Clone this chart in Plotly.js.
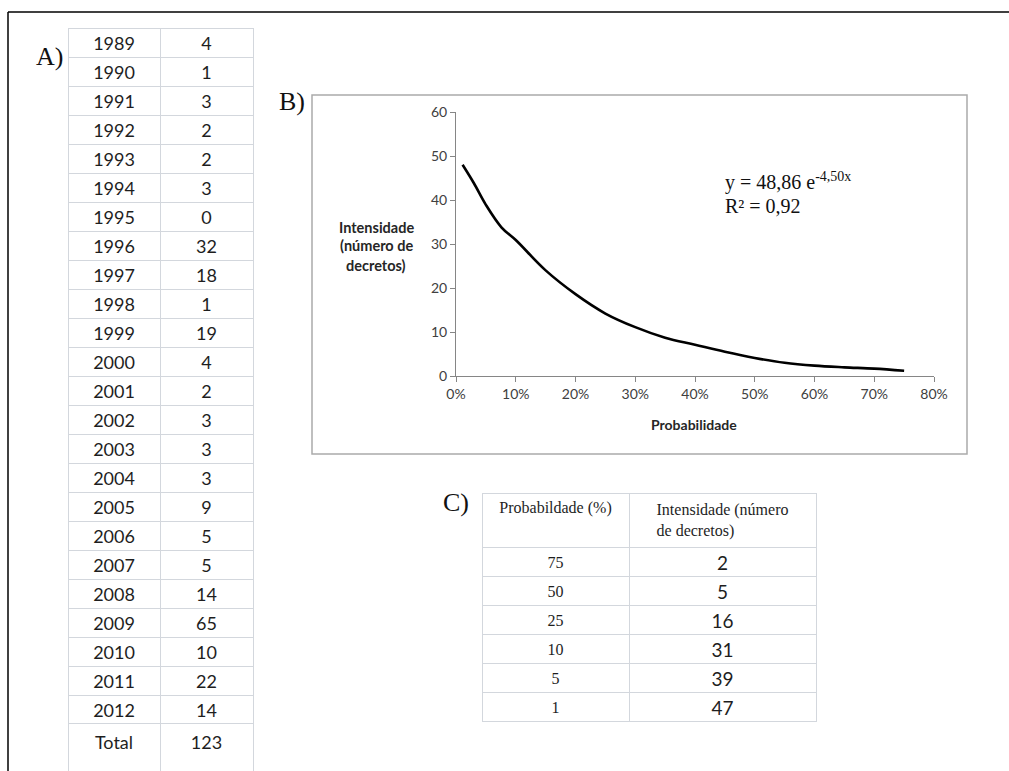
<!DOCTYPE html>
<html>
<head>
<meta charset="utf-8">
<script src="https://cdn.plot.ly/plotly-3.0.1.min.js"></script>
<style>html,body{margin:0;padding:0;background:#fff;}#chart{width:1009px;height:771px;}</style>
</head>
<body>
<div id="chart"></div>
<script>
// ---- Data ----
const yearsA = ['1989','1990','1991','1992','1993','1994','1995','1996','1997','1998','1999','2000',
                '2001','2002','2003','2004','2005','2006','2007','2008','2009','2010','2011','2012'];
const countsA = [4,1,3,2,2,3,0,32,18,1,19,4,2,3,3,3,9,5,5,14,65,10,22,14];
const totalLabel = 'Total';
const totalValue = 123;

const probC = [75,50,25,10,5,1];
const intensC = [2,5,16,31,39,47];
const headerC = ['Probabildade (%)','Intensidade (número<br>de decretos)'];

const curveX = [0.011,0.03,0.05,0.076,0.10,0.15,0.20,0.25,0.30,0.35,0.40,0.45,0.50,0.55,0.60,0.65,0.70,0.75];
const curveY = [48,43.8,38.9,33.8,30.9,24.0,18.6,14.2,11.1,8.7,7.1,5.5,4.1,3.0,2.35,1.97,1.67,1.2];

const equationText = 'y = 48,86 e<sup>-4,50x</sup>';
const r2Text = 'R² = 0,92';

// ---- helpers (pixel -> paper) ----
const W = 1009, H = 771;
const px = x => x / W;
const py = y => 1 - y / H;

const sans = 'Lato, "Open Sans", sans-serif';
const serif = '"Liberation Serif", "DejaVu Serif", serif';
const gridCol = '#d3d7dd';

const traces = [
  {
    type: 'scatter', mode: 'lines',
    x: curveX, y: curveY,
    line: {color: '#000', width: 2.6, shape: 'spline', smoothing: 1},
    hoverinfo: 'skip', showlegend: false
  },
  // Table A (years)
  {
    type: 'table',
    domain: {x: [px(68), px(253)], y: [py(727), py(28)]},
    columnwidth: [92, 93],
    header: {
      values: [yearsA[0], String(countsA[0])],
      height: 29, align: 'center',
      line: {color: gridCol, width: 1}, fill: {color: '#fff'},
      font: {family: sans, size: 18, color: '#1e1e1e'}
    },
    cells: {
      values: [yearsA.slice(1), countsA.slice(1)],
      height: 29, align: 'center',
      line: {color: gridCol, width: 1}, fill: {color: '#fff'},
      font: {family: sans, size: 18, color: '#1e1e1e'}
    }
  },
  // Table A total row
  {
    type: 'table',
    domain: {x: [px(68), px(253)], y: [0, py(723)]},
    columnwidth: [92, 93],
    header: {
      values: ['<br>' + totalLabel, '<br>' + String(totalValue)],
      height: 60, align: 'center',
      line: {color: gridCol, width: 1}, fill: {color: '#fff'},
      font: {family: sans, size: 18, color: '#1e1e1e'}
    },
    cells: {values: [[], []], height: 0, line: {color: gridCol, width: 1}}
  },
  // Table C
  {
    type: 'table',
    domain: {x: [px(482), px(816)], y: [py(734), py(493)]},
    columnwidth: [147, 187],
    header: {
      values: headerC,
      height: 48, align: 'center',
      line: {color: gridCol, width: 1}, fill: {color: '#fff'},
      font: {family: serif, size: 16, color: '#1e1e1e'}
    },
    cells: {
      values: [probC, intensC],
      height: 29, align: 'center',
      line: {color: gridCol, width: 1}, fill: {color: '#fff'},
      font: {family: [serif, sans], size: [16, 19], color: '#1e1e1e'}
    }
  }
];

const axisCol = '#868686';
const layout = {
  width: W, height: H,
  margin: {l: 0, r: 0, t: 0, b: 0},
  paper_bgcolor: '#fff', plot_bgcolor: '#fff',
  showlegend: false,
  xaxis: {
    domain: [px(456), px(934)],
    range: [0, 0.8], dtick: 0.1, tick0: 0, tickformat: '.0%',
    showgrid: false, zeroline: false,
    showline: true, linecolor: axisCol, linewidth: 1,
    ticks: 'outside', ticklen: 5, tickcolor: axisCol,
    tickfont: {family: sans, size: 14, color: '#404040'},
    fixedrange: true
  },
  yaxis: {
    domain: [py(376), py(112)],
    range: [0, 60], dtick: 10,
    showgrid: false, zeroline: false,
    showline: true, linecolor: axisCol, linewidth: 1,
    ticks: 'outside', ticklen: 5, tickcolor: axisCol,
    tickfont: {family: sans, size: 14, color: '#404040'},
    fixedrange: true
  },
  shapes: [
    // outer black frame (top and left)
    {type: 'line', xref: 'paper', yref: 'paper', x0: px(8), x1: 1, y0: py(12), y1: py(12), line: {color: '#000', width: 1.5}},
    {type: 'line', xref: 'paper', yref: 'paper', x0: px(8), x1: px(8), y0: py(12), y1: 0, line: {color: '#000', width: 1.5}},
    // chart B frame
    {type: 'rect', xref: 'paper', yref: 'paper', x0: px(312), x1: px(967), y0: py(454), y1: py(95), line: {color: '#aaaaaa', width: 1.5}}
  ],
  annotations: [
    {xref: 'paper', yref: 'paper', x: px(49), y: py(57), text: 'A)', showarrow: false, xanchor: 'center', yanchor: 'middle', font: {family: serif, size: 26, color: '#111'}},
    {xref: 'paper', yref: 'paper', x: px(292), y: py(102), text: 'B)', showarrow: false, xanchor: 'center', yanchor: 'middle', font: {family: serif, size: 26, color: '#111'}},
    {xref: 'paper', yref: 'paper', x: px(456), y: py(502), text: 'C)', showarrow: false, xanchor: 'center', yanchor: 'middle', font: {family: serif, size: 26, color: '#111'}},
    {xref: 'paper', yref: 'paper', x: px(376), y: py(227), text: '<b>Intensidade</b>', showarrow: false, xanchor: 'center', yanchor: 'middle', font: {family: sans, size: 14.5, color: '#262626'}},
    {xref: 'paper', yref: 'paper', x: px(376), y: py(246), text: '<b>(número de</b>', showarrow: false, xanchor: 'center', yanchor: 'middle', font: {family: sans, size: 14.5, color: '#262626'}},
    {xref: 'paper', yref: 'paper', x: px(376), y: py(265), text: '<b>decretos)</b>', showarrow: false, xanchor: 'center', yanchor: 'middle', font: {family: sans, size: 14.5, color: '#262626'}},
    {xref: 'paper', yref: 'paper', x: px(694), y: py(424), text: '<b>Probabilidade</b>', showarrow: false, xanchor: 'center', yanchor: 'middle', font: {family: sans, size: 14, color: '#262626'}},
    {xref: 'paper', yref: 'paper', x: px(723), y: py(181), text: equationText, showarrow: false, xanchor: 'left', yanchor: 'middle', font: {family: serif, size: 20, color: '#111'}},
    {xref: 'paper', yref: 'paper', x: px(723), y: py(206), text: r2Text, showarrow: false, xanchor: 'left', yanchor: 'middle', font: {family: serif, size: 20, color: '#111'}}
  ]
};

Plotly.newPlot('chart', traces, layout, {displayModeBar: false, staticPlot: true});
</script>
</body>
</html>
